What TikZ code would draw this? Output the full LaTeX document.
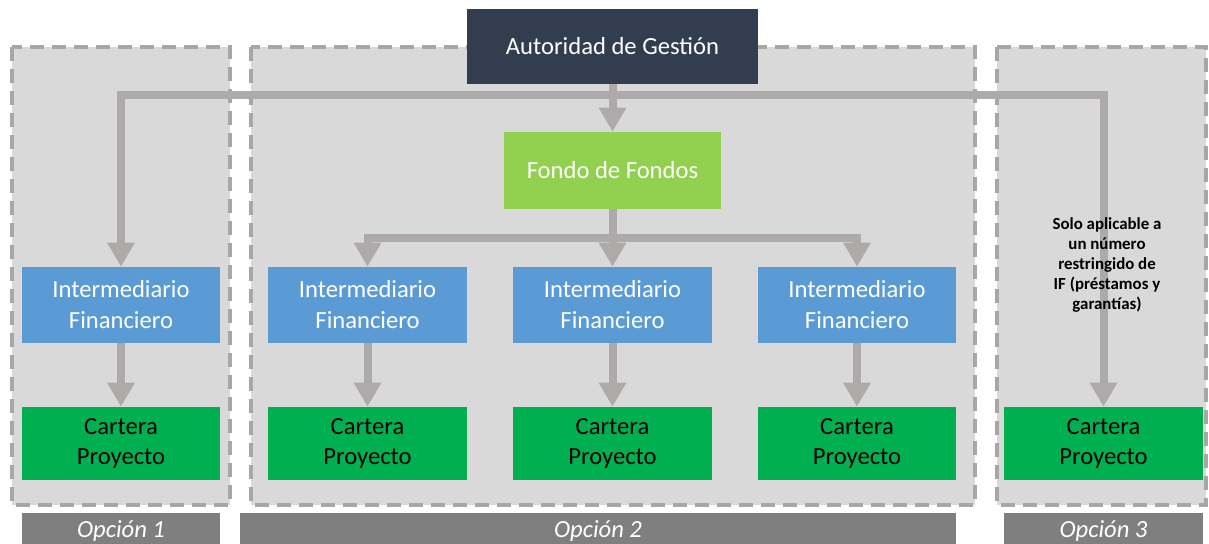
\documentclass[tikz,border=0pt]{standalone}
\usepackage{fontspec}
\setmainfont{Carlito}
\usetikzlibrary{arrows.meta}
\definecolor{panelfill}{HTML}{D9D9D9}
\definecolor{paneledge}{HTML}{A9A6A6}
\definecolor{flowgray}{HTML}{AEAAAA}
\definecolor{authblue}{HTML}{323E4F}
\definecolor{fofgreen}{HTML}{92D050}
\definecolor{ifblue}{HTML}{5B9BD5}
\definecolor{cpgreen}{HTML}{00B050}
\definecolor{optgray}{HTML}{7F7F7F}
\tikzset{
  panel/.style={fill=panelfill, draw=paneledge, line width=0.1cm,
    dash pattern=on 0.35cm off 0.2cm},
  box/.style={inner sep=0pt, align=center,
    font=\fontsize{17.5}{22}\selectfont},
  authbox/.style={box, fill=authblue, text=white,
    minimum width=7.275cm, minimum height=1.875cm},
  fofbox/.style={box, fill=fofgreen, text=white,
    minimum width=5.425cm, minimum height=1.925cm},
  ifbox/.style={box, fill=ifblue, text=white,
    minimum width=4.95cm, minimum height=1.9cm},
  cpbox/.style={box, fill=cpgreen, text=black,
    minimum width=4.95cm, minimum height=1.825cm},
  optbox/.style={inner sep=0pt, fill=optgray, text=white,
    minimum height=0.875cm, font=\fontsize{17.5}{20}\selectfont\itshape},
  flow/.style={draw=flowgray, line width=0.2cm,
    -{Triangle[width=0.65cm,length=0.6cm]}}
}
\begin{document}
\begin{tikzpicture}[x=0.025cm,y=-0.025cm]
  \useasboundingbox (0,0) rectangle (1209,544);
  % option panels
  \draw[panel] (12,47) rectangle (230,505);
  \draw[panel] (251,47) rectangle (975,505);
  \draw[panel] (997,47) rectangle (1206,505);
  % boxes
  \node[authbox] (auth) at (612.5,46.5) {Autoridad de Gestión};
  \node[fofbox] (fof) at (612.5,170.5) {Fondo de Fondos};
  \node[ifbox] (if1) at (121,305) {Intermediario\\Financiero};
  \node[ifbox] (if2) at (367.5,305) {Intermediario\\Financiero};
  \node[ifbox] (if3) at (612.5,305) {Intermediario\\Financiero};
  \node[ifbox] (if4) at (857,305) {Intermediario\\Financiero};
  \node[cpbox] (cp1) at (121,443.5) {Cartera\\Proyecto};
  \node[cpbox] (cp2) at (367.5,443.5) {Cartera\\Proyecto};
  \node[cpbox] (cp3) at (612.5,443.5) {Cartera\\Proyecto};
  \node[cpbox] (cp4) at (857,443.5) {Cartera\\Proyecto};
  \node[cpbox] (cp5) at (1103.5,443.5) {Cartera\\Proyecto};
  % connectors
  \coordinate (topbus) at (612.5,95);
  \coordinate (fofbus) at (612.5,238);
  \draw[flow] (auth.south) -- (fof.north);
  \draw[flow] (topbus) -| (if1.north);
  \draw[flow] (topbus) -| (cp5.north);
  \draw[flow] (fof.south) -- (if3.north);
  \draw[flow] (fofbus) -| (if2.north);
  \draw[flow] (fofbus) -| (if4.north);
  \foreach \i in {1,...,4}
    \draw[flow] (if\i.south) -- (cp\i.north);
  \node[align=center, font=\fontsize{12}{14.2}\selectfont\bfseries]
    (note) at (1107,265) {Solo aplicable a\\un número\\restringido de\\IF (préstamos y\\garantías)};
  % option labels
  \node[optbox, minimum width=4.95cm] (opt1) at (121,531) {Opción 1};
  \node[optbox, minimum width=17.9cm] (opt2) at (598,531) {Opción 2};
  \node[optbox, minimum width=4.975cm] (opt3) at (1103.5,531) {Opción 3};
\end{tikzpicture}
\end{document}
